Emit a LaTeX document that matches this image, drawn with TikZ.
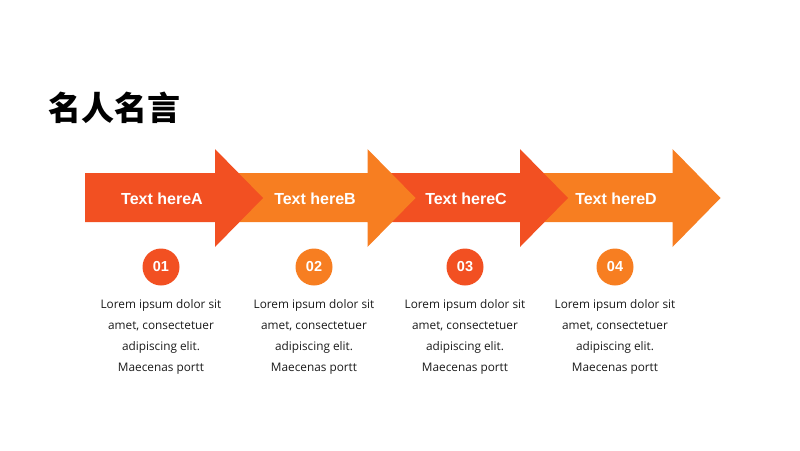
\documentclass[tikz,border=0pt]{standalone}
\usepackage{fontspec}
\newfontfamily\cjk{Noto Sans CJK SC}
\newfontfamily\labelfont{Liberation Sans}
\newfontfamily\bodyfont{Open Sans}
\definecolor{STEPdark}{HTML}{F25022}
\definecolor{STEPlight}{HTML}{F77E21}
\definecolor{STEPtext}{HTML}{1A1A1A}
\usetikzlibrary{positioning}

\begin{document}
\begin{tikzpicture}[x=1pt, y=-1pt,
      steplabel/.style={text=white, inner sep=0pt, font=\labelfont\bfseries\fontsize{16}{19}\selectfont},
      stepnum/.style={circle, minimum size=37pt, inner sep=0pt, text=white,
         font=\labelfont\bfseries\fontsize{14.5}{17}\selectfont},
      steptext/.style={align=center, anchor=north, inner sep=0pt, text=STEPtext,
         font=\bodyfont\fontsize{11.8}{21}\selectfont}]
   % Canvas
   \useasboundingbox (0,0) rectangle (800,450);
   % Title
   \node[anchor=west, inner sep=0pt, font=\cjk\bfseries\fontsize{33}{36}\selectfont] (title) at (48,108) {名人名言};
   % Arrows, drawn from the last one so that each head lies over the next body
   \foreach \i/\lbl/\col/\cx in {3/D/STEPlight/616, 2/C/STEPdark/466, 1/B/STEPlight/315, 0/A/STEPdark/162} {
      \pgfmathsetmacro{\xa}{85+152.5*\i}
      \fill[\col] (\xa,173) -- (\xa+130,173) -- (\xa+130,149) -- (\xa+178,198)
         -- (\xa+130,247) -- (\xa+130,222) -- (\xa,222) -- cycle;
      \node[steplabel] (label\lbl) at (\cx,199) {Text here\lbl};
      \node[stepnum, fill=\col] (num\lbl) at (\cx-1,267) {0\the\numexpr\i+1\relax};
      \node[steptext] (text\lbl) at (\cx-1,299)
         {Lorem ipsum dolor sit\\amet, consectetuer\\adipiscing elit.\\Maecenas portt};
   }
\end{tikzpicture}
\end{document}
